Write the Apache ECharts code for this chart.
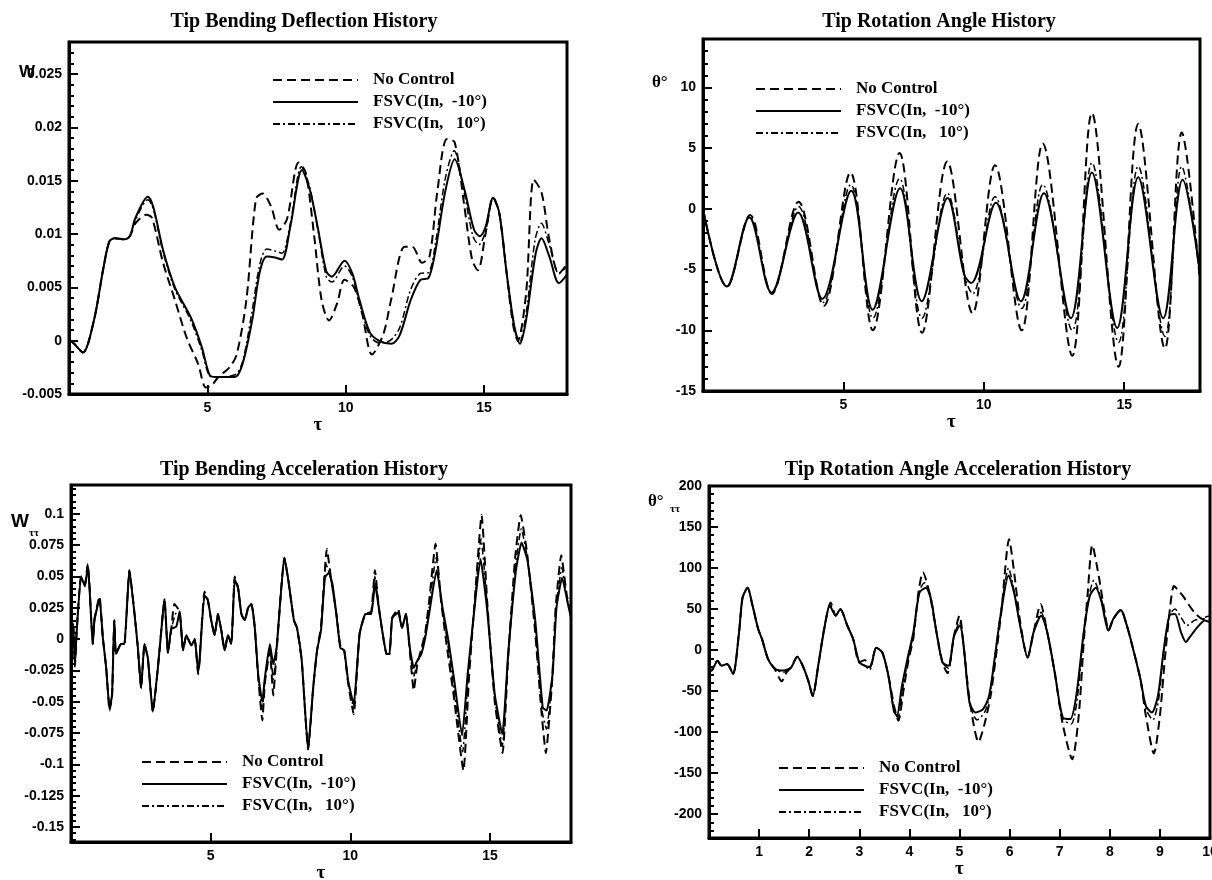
<!DOCTYPE html>
<html>
<head>
<meta charset="utf-8">
<title>Tip histories</title>
<script src="https://cdn.jsdelivr.net/npm/echarts@6/dist/echarts.min.js"></script>
<style>
  html, body { margin: 0; padding: 0; background: #fff; }
  #main { width: 1212px; height: 880px; }
</style>
</head>
<body>
<div id="main"></div>
<script>
// series names (legend)
var names = ['No Control', 'FSVC(In,  -10°)', 'FSVC(In,   10°)']

// tip bending deflection  [tau, w]
var defNoCtrl = [[0,0],[0.15,-0.0002],[0.5,-0.0011],[0.9,0.0019],[1.25,0.0069],[1.46,0.0093],[1.65,0.0096],[2.0,0.0095],[2.2,0.0098],[2.4,0.011],[2.8,0.0118],[3.0,0.0115],[3.4,0.0073],[3.83,0.0038],[4.25,0.0003],[4.67,-0.0022],[4.95,-0.0044],[5.15,-0.0042],[5.4,-0.0034],[5.8,-0.0025],[6.06,-0.0013],[6.41,0.0038],[6.76,0.0133],[7.0,0.0138],[7.3,0.0126],[7.6,0.0104],[7.88,0.0114],[8.3,0.0167],[8.55,0.0158],[8.85,0.0101],[9.13,0.0038],[9.4,0.0019],[9.69,0.0035],[9.96,0.0057],[10.3,0.005],[10.6,0.0025],[10.95,-0.0013],[11.36,0.0006],[11.64,0.0038],[12.13,0.0088],[12.41,0.0088],[12.76,0.0073],[13.03,0.0079],[13.31,0.0139],[13.66,0.0189],[13.94,0.0186],[14.29,0.0126],[14.57,0.0076],[14.78,0.0066],[15.06,0.0101],[15.33,0.0134],[15.55,0.012],[15.82,0.0063],[16.05,0.0015],[16.22,0.0],[16.52,0.0044],[16.8,0.0151],[17.08,0.0139],[17.36,0.0095],[17.71,0.0063],[18,0.0072]]
var defMinus = [[0,0],[0.15,-0.0002],[0.5,-0.0011],[0.9,0.0019],[1.25,0.0069],[1.46,0.0093],[1.65,0.0096],[2.0,0.0095],[2.2,0.0098],[2.4,0.0115],[2.85,0.0135],[3.05,0.0125],[3.4,0.0085],[3.83,0.005],[4.4,0.0022],[4.8,-0.0006],[5.08,-0.0032],[5.3,-0.0034],[6.0,-0.0034],[6.27,-0.0022],[6.62,0.0019],[6.9,0.0065],[7.15,0.0079],[7.45,0.0078],[7.7,0.0076],[8.0,0.0107],[8.42,0.016],[8.7,0.0142],[9.0,0.0105],[9.3,0.0065],[9.5,0.006],[9.96,0.0075],[10.24,0.0063],[10.5,0.0038],[10.87,0.0008],[11.2,0.0],[11.65,-0.0003],[11.95,0.0005],[12.35,0.0038],[12.7,0.0057],[13.0,0.0059],[13.25,0.0085],[13.6,0.014],[13.94,0.017],[14.29,0.0142],[14.64,0.0104],[14.85,0.0098],[15.06,0.0107],[15.33,0.0134],[15.55,0.012],[15.82,0.0063],[16.1,0.0013],[16.3,-0.0003],[16.52,0.0019],[16.87,0.0082],[17.08,0.0096],[17.36,0.0079],[17.71,0.0054],[18,0.0062]]
var defPlus = [[0,0],[0.15,-0.0002],[0.5,-0.0011],[0.9,0.0019],[1.25,0.0069],[1.46,0.0093],[1.65,0.0096],[2.0,0.0095],[2.2,0.0098],[2.4,0.0113],[2.85,0.0132],[3.05,0.0123],[3.4,0.0083],[3.83,0.0048],[4.4,0.0019],[4.8,-0.0009],[5.08,-0.0033],[5.3,-0.0034],[6.0,-0.0032],[6.27,-0.002],[6.6,0.0025],[6.9,0.0072],[7.15,0.0086],[7.45,0.0084],[7.7,0.0082],[8.0,0.011],[8.4,0.0163],[8.7,0.0144],[9.0,0.0103],[9.3,0.006],[9.5,0.0055],[9.96,0.007],[10.24,0.006],[10.5,0.0035],[10.87,0.0005],[11.2,-0.0002],[11.6,0.0],[11.95,0.0012],[12.35,0.0048],[12.7,0.0063],[13.0,0.0064],[13.25,0.0092],[13.6,0.0152],[13.92,0.0178],[14.29,0.0138],[14.6,0.0098],[14.82,0.009],[15.06,0.0103],[15.33,0.0134],[15.55,0.012],[15.82,0.0063],[16.1,0.0012],[16.28,-0.0002],[16.52,0.0025],[16.85,0.0095],[17.07,0.011],[17.36,0.009],[17.71,0.0063],[18,0.007]]

// tip rotation angle  [tau, theta deg]
var rotNoCtrl = [[0,0],[0.85,-6.4],[1.68,-0.5],[2.45,-7.0],[3.4,0.6],[4.3,-8.0],[5.25,3.0],[6.05,-10.0],[7.0,4.6],[7.8,-10.2],[8.7,3.9],[9.6,-8.6],[10.4,3.6],[11.35,-10.0],[12.1,5.4],[13.15,-12.1],[13.85,7.9],[14.8,-13.0],[15.5,7.0],[16.45,-11.5],[17.05,6.3],[17.7,-6.0]]
var rotMinus = [[0,0],[0.85,-6.4],[1.65,-0.7],[2.44,-6.9],[3.39,-0.3],[4.25,-7.4],[5.28,1.5],[6.04,-8.3],[7.02,1.7],[7.79,-7.6],[8.71,0.9],[9.3,-5.4],[9.55,-6.1],[10.43,0.5],[11.32,-7.6],[12.14,1.3],[13.1,-9.0],[13.85,3.0],[14.75,-9.8],[15.5,2.6],[16.39,-9.0],[17.08,2.4],[17.7,-5.3]]
var rotPlus = [[0,0],[0.85,-6.4],[1.66,-0.6],[2.45,-6.9],[3.4,0.2],[4.28,-7.7],[5.26,2.0],[6.05,-9.0],[7.0,2.5],[7.8,-9.0],[8.7,1.3],[9.35,-5.8],[9.6,-7.0],[10.4,1.0],[11.35,-8.2],[12.1,2.0],[13.15,-10.0],[13.85,3.8],[14.8,-11.0],[15.5,3.5],[16.45,-10.5],[17.05,3.5],[17.7,-5.5]]

// tip bending acceleration  [tau, w_tt]
var accNoCtrl = [[0,0],[0.08,0.012],[0.14,-0.022],[0.2,0.005],[0.36,0.05],[0.5,0.044],[0.6,0.06],[0.66,0.044],[0.78,-0.004],[0.84,0.016],[1.02,0.034],[1.14,0.001],[1.26,-0.023],[1.38,-0.057],[1.47,-0.046],[1.55,0.015],[1.61,-0.012],[1.79,-0.004],[1.91,-0.004],[2.09,0.055],[2.27,0.021],[2.39,-0.006],[2.51,-0.039],[2.63,-0.004],[2.75,-0.015],[2.93,-0.058],[3.11,-0.023],[3.29,0.021],[3.35,0.032],[3.47,-0.011],[3.59,0.008],[3.7,0.028],[3.89,0.022],[4.01,-0.009],[4.13,0.003],[4.31,-0.005],[4.43,0.0],[4.55,-0.028],[4.6,-0.018],[4.78,0.038],[4.9,0.031],[5.02,0.015],[5.14,0.003],[5.26,0.02],[5.38,0.007],[5.5,-0.009],[5.62,0.003],[5.74,-0.004],[5.86,0.05],[5.98,0.041],[6.1,0.02],[6.22,0.015],[6.34,0.025],[6.46,0.028],[6.58,0.009],[6.7,-0.03],[6.85,-0.065],[6.94,-0.035],[7.12,-0.01],[7.24,-0.045],[7.36,-0.01],[7.64,0.065],[7.78,0.047],[7.98,0.015],[8.09,0.009],[8.26,-0.017],[8.49,-0.088],[8.67,-0.039],[8.81,-0.009],[8.95,0.01],[9.16,0.072],[9.3,0.05],[9.5,0.02],[9.64,-0.005],[9.78,-0.009],[9.92,-0.035],[10.12,-0.06],[10.33,0.004],[10.54,0.02],[10.75,0.022],[10.88,0.055],[11.02,0.025],[11.16,0.004],[11.3,-0.012],[11.4,-0.012],[11.5,0.017],[11.71,0.024],[11.85,0.009],[11.99,0.02],[12.13,-0.01],[12.27,-0.041],[12.4,-0.02],[12.54,-0.008],[12.68,0.005],[12.82,0.03],[13.05,0.076],[13.25,0.03],[13.45,-0.005],[13.7,-0.045],[14.05,-0.105],[14.25,-0.03],[14.45,0.03],[14.7,0.099],[14.9,0.03],[15.17,-0.05],[15.45,-0.091],[15.65,-0.015],[15.9,0.065],[16.1,0.099],[16.32,0.07],[16.6,0.01],[16.85,-0.06],[17.0,-0.091],[17.22,-0.035],[17.35,0.025],[17.55,0.067],[17.75,0.035],[17.9,0.02]]
var accMinus = [[0,0],[0.08,0.01],[0.14,-0.02],[0.2,0.005],[0.36,0.05],[0.5,0.042],[0.6,0.058],[0.66,0.042],[0.78,-0.004],[0.84,0.015],[1.02,0.032],[1.14,0.001],[1.26,-0.023],[1.38,-0.055],[1.47,-0.044],[1.55,0.015],[1.61,-0.012],[1.79,-0.004],[1.91,-0.004],[2.09,0.055],[2.27,0.021],[2.39,-0.006],[2.51,-0.039],[2.63,-0.004],[2.75,-0.015],[2.93,-0.058],[3.11,-0.023],[3.29,0.021],[3.35,0.032],[3.47,-0.011],[3.59,0.008],[3.77,0.01],[3.89,0.022],[4.01,-0.009],[4.13,0.003],[4.31,-0.005],[4.43,0.0],[4.55,-0.025],[4.6,-0.018],[4.78,0.035],[4.9,0.031],[5.02,0.015],[5.14,0.003],[5.26,0.02],[5.38,0.007],[5.5,-0.009],[5.62,0.003],[5.74,-0.004],[5.86,0.047],[5.98,0.041],[6.1,0.02],[6.22,0.015],[6.34,0.025],[6.46,0.028],[6.58,0.009],[6.7,-0.028],[6.85,-0.05],[6.94,-0.031],[7.12,-0.004],[7.24,-0.02],[7.36,-0.007],[7.64,0.065],[7.78,0.047],[7.98,0.015],[8.09,0.009],[8.26,-0.017],[8.49,-0.088],[8.67,-0.039],[8.81,-0.009],[8.95,0.007],[9.09,0.049],[9.23,0.053],[9.36,0.044],[9.5,0.02],[9.64,-0.007],[9.78,-0.009],[9.92,-0.033],[10.12,-0.052],[10.33,0.004],[10.54,0.02],[10.75,0.02],[10.88,0.044],[11.02,0.025],[11.16,0.004],[11.3,-0.012],[11.4,-0.012],[11.5,0.017],[11.71,0.021],[11.85,0.009],[11.99,0.02],[12.13,-0.007],[12.27,-0.023],[12.4,-0.017],[12.54,-0.012],[12.68,0.001],[12.82,0.02],[13.09,0.055],[13.3,0.025],[13.51,-0.001],[13.72,-0.033],[14.0,-0.077],[14.2,-0.028],[14.41,0.017],[14.66,0.064],[14.89,0.025],[15.17,-0.044],[15.44,-0.076],[15.65,-0.012],[15.93,0.055],[16.13,0.077],[16.34,0.063],[16.62,0.015],[16.89,-0.055],[17.03,-0.057],[17.24,-0.028],[17.38,0.025],[17.58,0.049],[17.79,0.028],[17.9,0.017]]
var accPlus = [[0,0],[0.08,0.011],[0.14,-0.021],[0.2,0.005],[0.36,0.05],[0.5,0.043],[0.6,0.059],[0.66,0.043],[0.78,-0.004],[0.84,0.015],[1.02,0.033],[1.14,0.001],[1.26,-0.023],[1.38,-0.056],[1.47,-0.045],[1.55,0.015],[1.61,-0.012],[1.79,-0.004],[1.91,-0.004],[2.09,0.055],[2.27,0.021],[2.39,-0.006],[2.51,-0.039],[2.63,-0.004],[2.75,-0.015],[2.93,-0.058],[3.11,-0.023],[3.29,0.021],[3.35,0.032],[3.47,-0.011],[3.59,0.008],[3.74,0.02],[3.89,0.022],[4.01,-0.009],[4.13,0.003],[4.31,-0.005],[4.43,0.0],[4.55,-0.027],[4.6,-0.018],[4.78,0.036],[4.9,0.031],[5.02,0.015],[5.14,0.003],[5.26,0.02],[5.38,0.007],[5.5,-0.009],[5.62,0.003],[5.74,-0.004],[5.86,0.048],[5.98,0.041],[6.1,0.02],[6.22,0.015],[6.34,0.025],[6.46,0.028],[6.58,0.009],[6.7,-0.029],[6.85,-0.057],[6.94,-0.033],[7.12,-0.007],[7.24,-0.032],[7.36,-0.008],[7.64,0.065],[7.78,0.047],[7.98,0.015],[8.09,0.009],[8.26,-0.017],[8.49,-0.088],[8.67,-0.039],[8.81,-0.009],[8.95,0.008],[9.13,0.06],[9.28,0.05],[9.5,0.02],[9.64,-0.006],[9.78,-0.009],[9.92,-0.034],[10.12,-0.055],[10.33,0.004],[10.54,0.02],[10.75,0.021],[10.88,0.05],[11.02,0.025],[11.16,0.004],[11.3,-0.012],[11.4,-0.012],[11.5,0.017],[11.71,0.022],[11.85,0.009],[11.99,0.02],[12.13,-0.008],[12.27,-0.03],[12.4,-0.018],[12.54,-0.01],[12.68,0.003],[12.82,0.025],[13.07,0.065],[13.28,0.027],[13.48,-0.003],[13.71,-0.04],[14.02,-0.09],[14.22,-0.029],[14.43,0.023],[14.68,0.08],[14.9,0.027],[15.17,-0.047],[15.44,-0.085],[15.65,-0.013],[15.92,0.06],[16.12,0.088],[16.33,0.066],[16.61,0.012],[16.87,-0.058],[17.02,-0.072],[17.23,-0.031],[17.37,0.025],[17.57,0.057],[17.77,0.031],[17.9,0.018]]

// tip rotation angle acceleration  [tau, theta_tt]
var angNoCtrl = [[0,-19],[0.05,-25],[0.17,-13],[0.25,-19],[0.36,-17],[0.48,-29],[0.6,22],[0.67,64],[0.77,76],[0.87,54],[0.98,26],[1.06,13],[1.18,-11],[1.33,-25],[1.45,-38],[1.55,-27],[1.64,-21],[1.76,-8],[1.87,-19],[1.99,-39],[2.07,-56],[2.18,-19],[2.3,26],[2.43,58],[2.53,42],[2.62,50],[2.76,30],[2.88,13],[3.0,-15],[3.11,-12],[3.21,-21],[3.34,3],[3.46,-3],[3.58,-31],[3.7,-70],[3.78,-86],[3.88,-50],[3.98,-13],[4.08,15],[4.18,70],[4.27,95],[4.4,70],[4.54,22],[4.66,-15],[4.76,-28],[4.89,17],[5.0,42],[5.09,1],[5.2,-60],[5.38,-112],[5.5,-90],[5.62,-56],[5.72,-11],[5.84,50],[5.99,135],[6.1,90],[6.21,35],[6.36,-9],[6.48,22],[6.62,56],[6.75,22],[6.9,-27],[7.06,-90],[7.25,-133],[7.38,-80],[7.48,10],[7.56,70],[7.65,128],[7.78,90],[7.9,45],[7.98,24],[8.07,38],[8.22,49],[8.34,30],[8.45,5],[8.61,-35],[8.72,-80],[8.88,-126],[9.0,-80],[9.1,-10],[9.2,50],[9.28,78],[9.38,72],[9.46,66],[9.58,55],[9.69,46],[9.85,38],[10,38]]
var angMinus = [[0,-19],[0.05,-25],[0.17,-13],[0.25,-19],[0.36,-17],[0.48,-29],[0.6,22],[0.67,64],[0.77,76],[0.87,54],[0.98,26],[1.06,13],[1.18,-11],[1.33,-23],[1.49,-25],[1.64,-21],[1.76,-8],[1.87,-19],[1.99,-39],[2.07,-56],[2.18,-19],[2.3,26],[2.41,54],[2.53,42],[2.62,50],[2.76,30],[2.88,13],[3.0,-15],[3.11,-19],[3.21,-21],[3.34,3],[3.46,-3],[3.58,-31],[3.69,-74],[3.75,-80],[3.85,-44],[3.96,-11],[4.08,22],[4.2,70],[4.33,76],[4.43,62],[4.54,22],[4.66,-15],[4.78,-19],[4.89,17],[5.01,30],[5.09,1],[5.2,-64],[5.32,-76],[5.47,-72],[5.59,-56],[5.7,-11],[5.82,42],[5.98,91],[6.09,70],[6.21,30],[6.36,-9],[6.48,22],[6.63,42],[6.75,22],[6.9,-27],[7.06,-82],[7.21,-84],[7.33,-56],[7.48,22],[7.6,66],[7.72,76],[7.83,60],[7.97,24],[8.07,38],[8.22,49],[8.34,30],[8.45,5],[8.61,-35],[8.72,-68],[8.84,-76],[8.96,-56],[9.07,-3],[9.19,42],[9.3,44],[9.42,22],[9.52,10],[9.6,16],[9.75,28],[9.9,36],[10,34]]
var angPlus = [[0,-19],[0.05,-25],[0.17,-13],[0.25,-19],[0.36,-17],[0.48,-29],[0.6,22],[0.67,64],[0.77,76],[0.87,54],[0.98,26],[1.06,13],[1.18,-11],[1.33,-24],[1.49,-27],[1.64,-21],[1.76,-8],[1.87,-19],[1.99,-39],[2.07,-56],[2.18,-19],[2.3,26],[2.42,56],[2.53,42],[2.62,50],[2.76,30],[2.88,13],[3.0,-15],[3.11,-19],[3.21,-24],[3.34,3],[3.46,-3],[3.58,-31],[3.7,-76],[3.77,-82],[3.87,-46],[3.97,-12],[4.08,20],[4.2,72],[4.3,82],[4.43,64],[4.54,22],[4.66,-15],[4.78,-22],[4.89,17],[5.0,34],[5.09,1],[5.2,-64],[5.35,-85],[5.5,-76],[5.6,-56],[5.7,-11],[5.82,45],[5.98,100],[6.09,72],[6.21,30],[6.36,-9],[6.48,22],[6.63,46],[6.75,22],[6.9,-27],[7.06,-84],[7.23,-90],[7.35,-60],[7.48,22],[7.6,70],[7.68,85],[7.83,62],[7.97,24],[8.07,38],[8.22,49],[8.34,30],[8.45,5],[8.61,-35],[8.72,-72],[8.86,-85],[8.98,-58],[9.07,-3],[9.19,42],[9.3,50],[9.42,40],[9.54,30],[9.68,36],[9.8,38],[10,42]]

// tick labels
var defTicks = [-0.005, 0, 0.005, 0.01, 0.015, 0.02, 0.025]
var rotTicks = [-15, -10, -5, 0, 5, 10]
var accTicks = [-0.15, -0.125, -0.1, -0.075, -0.05, -0.025, 0, 0.025, 0.05, 0.075, 0.1]
var angTicks = [-200, -150, -100, -50, 0, 50, 100, 150, 200]
var tauTicks = [5, 10, 15]
var angTauTicks = [1, 2, 3, 4, 5, 6, 7, 8, 9, 10]

var serif = '"Liberation Serif", "Times New Roman", serif'
var sans = '"Liberation Sans", Arial, sans-serif'

var panels = [
  { title: 'Tip Bending Deflection History', tx: 304, ty: 12,
    grid: { left: 69, top: 42, width: 498, height: 352 },
    xMax: 18, xTicks: tauTicks, yMin: -0.005, yMax: 0.028, yTicks: defTicks, minor: 0.001,
    data: [defNoCtrl, defMinus, defPlus], smooth: 0.3, legend: [272, 71] },
  { title: 'Tip Rotation Angle History', tx: 939, ty: 12,
    grid: { left: 703, top: 39, width: 497, height: 352 },
    xMax: 17.7, xTicks: tauTicks, yMin: -15, yMax: 14, yTicks: rotTicks, minor: 1,
    data: [rotNoCtrl, rotMinus, rotPlus], smooth: 0.35, legend: [755, 80] },
  { title: 'Tip Bending Acceleration History', tx: 304, ty: 460,
    grid: { left: 71, top: 485, width: 500, height: 357 },
    xMax: 17.9, xTicks: tauTicks, yMin: -0.162, yMax: 0.123, yTicks: accTicks, minor: 0.005,
    data: [accNoCtrl, accMinus, accPlus], smooth: 0.15, legend: [141, 753] },
  { title: 'Tip Rotation Angle Acceleration History', tx: 958, ty: 460,
    grid: { left: 709, top: 486, width: 501, height: 352 },
    xMax: 10, xTicks: angTauTicks, yMin: -229, yMax: 200, yTicks: angTicks, minor: 10,
    data: [angNoCtrl, angMinus, angPlus], smooth: 0.25, legend: [778, 759] }
]

var lineStyles = [
  { color: '#000', width: 2, type: [9, 5] },
  { color: '#000', width: 2, type: 'solid' },
  { color: '#000', width: 1.5, type: [7, 3, 2, 3] }
]

function minorTicks(min, max, step) {
  var out = []
  var v = Math.ceil(min / step - 1e-9) * step
  for (; v <= max + 1e-9; v += step) {
    out.push(Math.round(v / step) * step)
  }
  return out
}

var option = {
  backgroundColor: '#fff',
  animation: false,
  title: [], grid: [], xAxis: [], yAxis: [], legend: [], series: [],
  graphic: [
    { type: 'text', left: 19, top: 64, style: { text: 'W', font: 'bold 17px ' + sans, fill: '#000' } },
    { type: 'text', left: 652, top: 74, style: { text: 'θ°', font: 'bold 17px ' + serif, fill: '#000' } },
    { type: 'text', left: 11, top: 512, style: { text: 'W', font: 'bold 19px ' + sans, fill: '#000' } },
    { type: 'text', left: 29, top: 528, style: { text: 'ττ', font: 'bold 11px ' + serif, fill: '#000' } },
    { type: 'text', left: 648, top: 493, style: { text: 'θ°', font: 'bold 17px ' + serif, fill: '#000' } },
    { type: 'text', left: 670, top: 504, style: { text: 'ττ', font: 'bold 11px ' + serif, fill: '#000' } }
  ]
}

panels.forEach(function(p, i) {
  option.title.push({
    text: p.title, left: p.tx, top: p.ty, textAlign: 'center', padding: 0,
    textStyle: { fontFamily: serif, fontWeight: 'bold', fontSize: 20, color: '#000' }
  })
  option.grid.push({
    left: p.grid.left, top: p.grid.top, width: p.grid.width, height: p.grid.height,
    show: true, borderColor: '#000', borderWidth: 3, backgroundColor: 'transparent',
    outerBoundsMode: 'none'
  })
  option.xAxis.push({
    type: 'value', gridIndex: i, min: 0, max: p.xMax,
    name: 'τ', nameLocation: 'middle', nameGap: 22,
    nameTextStyle: { fontFamily: serif, fontWeight: 'bold', fontSize: 19, color: '#000' },
    axisLine: { show: true, onZero: false, lineStyle: { color: '#000', width: 3 } },
    axisTick: { show: true, inside: true, length: 9, customValues: p.xTicks, lineStyle: { color: '#000', width: 2 } },
    axisLabel: { customValues: p.xTicks, margin: 7, color: '#000', fontFamily: sans, fontWeight: 'bold', fontSize: 14 },
    splitLine: { show: false }
  })
  // major ticks + labels
  option.yAxis.push({
    type: 'value', gridIndex: i, min: p.yMin, max: p.yMax,
    axisLine: { show: true, onZero: false, lineStyle: { color: '#000', width: 3 } },
    axisTick: { show: true, inside: true, length: 9, customValues: p.yTicks, lineStyle: { color: '#000', width: 2 } },
    axisLabel: { customValues: p.yTicks, margin: 7, color: '#000', fontFamily: sans, fontWeight: 'bold', fontSize: 14 },
    splitLine: { show: false }
  })
  // minor ticks
  option.yAxis.push({
    type: 'value', gridIndex: i, min: p.yMin, max: p.yMax, position: 'left',
    axisLine: { show: false, onZero: false },
    axisTick: { show: true, inside: true, length: 5, customValues: minorTicks(p.yMin, p.yMax, p.minor), lineStyle: { color: '#000', width: 2 } },
    axisLabel: { show: false },
    splitLine: { show: false }
  })
  option.legend.push({
    orient: 'vertical', left: p.legend[0], top: p.legend[1], padding: 0,
    itemWidth: 85, itemHeight: 14, itemGap: 4, selectedMode: false,
    data: names,
    itemStyle: { color: 'rgba(0,0,0,0)', borderWidth: 0 },
    textStyle: { fontFamily: serif, fontWeight: 'bold', fontSize: 17, lineHeight: 18, color: '#000', padding: [0, 0, 0, 10] }
  })
  p.data.forEach(function(d, k) {
    option.series.push({
      name: names[k], type: 'line', xAxisIndex: i, yAxisIndex: i * 2,
      data: d, symbol: 'none', showSymbol: false, smooth: p.smooth,
      itemStyle: { color: 'rgba(0,0,0,0)' },
      lineStyle: lineStyles[k], z: k === 1 ? 4 : 3
    })
  })
})

var chart = echarts.init(document.getElementById('main'), null, { renderer: 'canvas' })
chart.setOption(option)
</script>
</body>
</html>
